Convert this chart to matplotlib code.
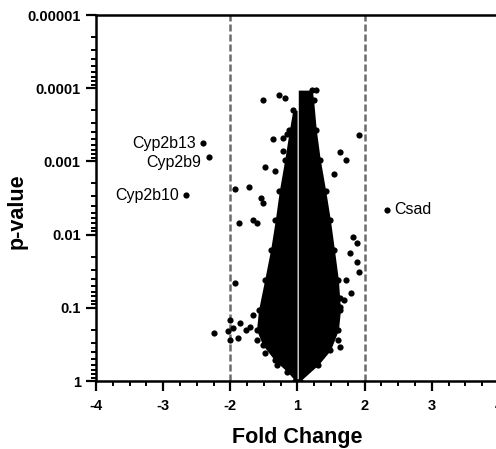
import numpy as np
import matplotlib
matplotlib.use("Agg")
import matplotlib.pyplot as plt
from matplotlib.ticker import MultipleLocator, LogLocator, NullFormatter

plt.rcParams['font.family'] = ['Liberation Sans', 'DejaVu Sans']

# named genes
gene_names = ["Cyp2b13", "Cyp2b9", "Cyp2b10", "Csad"]
gene_fc = [-2.40, -2.31, -2.66, 2.34]
gene_p = [5.6e-4, 8.7e-4, 2.9e-3, 4.6e-3]
gene_offsets = [(-5, 0), (-6, -4), (-5, 0), (5, 0)]

# other scattered genes outside the dense cloud
other_fc = [1.91, -1.52, -1.27, -1.19, 1.27, -1.15, -1.21, -1.36, -1.22, -1.48,
            -1.34, -1.93, -1.72, -1.55, -1.51, -1.87, -1.66, -1.60, -1.93, -2.25,
            -2.00, -2.04, -2.00, -1.88, -1.96, -1.85, -1.76, -1.70,
            1.79, 1.64, 1.70, 1.64, 1.49, 1.52, 1.60, 1.64, 1.64, 1.72, 1.54,
            1.82, 1.88, 1.78, 1.88, 1.91, 1.72,
            -1.66, -1.60, -1.48, -1.30]
other_p = [4.4e-4, 1.45e-4, 1.24e-4, 1.36e-4, 1.05e-4, 4.2e-4, 4.8e-4, 4.9e-4, 7.2e-4, 1.2e-3,
           1.35e-3, 2.4e-3, 2.2e-3, 3.2e-3, 3.7e-3, 6.9e-3, 6.3e-3, 6.9e-3, 0.046, 0.22,
           0.147, 0.21, 0.275, 0.26, 0.19, 0.16, 0.20, 0.18,
           0.063, 0.073, 0.078, 0.097, 0.134, 0.156, 0.275, 0.34, 7.4e-4, 9.6e-4, 1.5e-3,
           0.0108, 0.013, 0.0178, 0.0237, 0.0324, 0.0417,
           0.125, 0.275, 0.41, 0.60]

# outline of the dense cloud (down-regulated side)
left_env_p = [2.0e-4, 3.7e-4, 9.5e-4, 2.5e-3, 6.3e-3, 0.016, 0.042, 0.107, 0.20, 0.32, 0.52, 0.75, 1.0]
left_env_fc = [-1.07, -1.12, -1.19, -1.27, -1.33, -1.40, -1.49, -1.58, -1.61, -1.52, -1.34, -1.15, -1.03]

# outline of the dense cloud (up-regulated side)
right_env_p = [1.06e-4, 1.44e-4, 3.7e-4, 9.5e-4, 2.5e-3, 6.3e-3, 0.016, 0.042, 0.107, 0.20, 0.38, 0.60, 1.0]
right_env_fc = [1.22, 1.24, 1.28, 1.34, 1.42, 1.49, 1.55, 1.61, 1.64, 1.61, 1.49, 1.31, 1.04]

x_labels = ['-4', '-3', '-2', '1', '2', '3', '4']
y_ticks = [1, 0.1, 0.01, 0.001, 0.0001, 0.00001]
y_labels = ['1', '0.1', '0.01', '0.001', '0.0001', '0.00001']


def to_axis(fc):
    # fold change -> linear axis position (1 and -1 share the same spot)
    fc = np.asarray(fc, dtype=float)
    return np.where(fc >= 1, fc - 1, fc + 1)


fig = plt.figure(figsize=(4.96, 4.49), dpi=100)
ax = fig.add_axes([0.1935, 0.1514, 0.8125, 0.815])

# dense cloud
ax.fill_betweenx(left_env_p, to_axis(left_env_fc), -0.006, color='black', lw=0, zorder=3)
ax.fill_betweenx(right_env_p, 0.012, to_axis(right_env_fc), color='black', lw=0, zorder=3)
ax.scatter(to_axis(left_env_fc), left_env_p, s=20, color='black', lw=0, zorder=3)
ax.scatter(to_axis(right_env_fc), right_env_p, s=20, color='black', lw=0, zorder=3)

ax.scatter(to_axis(other_fc), other_p, s=20, color='black', lw=0, zorder=3)
ax.scatter(to_axis(gene_fc), gene_p, s=20, color='black', lw=0, zorder=3)

for name, fc, p, off in zip(gene_names, gene_fc, gene_p, gene_offsets):
    ax.annotate(name, (float(to_axis(fc)), p), xytext=off, textcoords='offset points',
                ha='right' if off[0] < 0 else 'left', va='center', fontsize=11.5)

# +/- 2 fold thresholds
for fc in [-2, 2]:
    ax.axvline(float(to_axis(fc)), color='#6b6b6b', lw=1.8, ls=(0, (2.8, 1.2)), zorder=1)

ax.set_yscale('log')
ax.set_ylim(1, 1e-5)
ax.set_xlim(-3, 3)

ax.set_xticks(np.arange(-3, 4), x_labels)
ax.xaxis.set_minor_locator(MultipleLocator(0.25))
ax.set_yticks(y_ticks, y_labels)
ax.yaxis.set_minor_locator(LogLocator(base=10, subs=np.arange(2, 10)))
ax.yaxis.set_minor_formatter(NullFormatter())

for lab in ax.get_xticklabels() + ax.get_yticklabels():
    lab.set_fontweight('bold')

ax.tick_params(which='major', direction='out', length=7, width=1.6, labelsize=10.5)
ax.tick_params(axis='x', which='major', pad=6)
ax.tick_params(axis='y', which='major', pad=4)
ax.tick_params(which='minor', direction='out', length=3.5, width=1.4)

for side in ['left', 'bottom', 'top']:
    ax.spines[side].set_linewidth(1.8)
ax.spines['right'].set_visible(False)

ax.set_xlabel('Fold Change', fontsize=15.5, fontweight='bold', labelpad=10)
ax.set_ylabel('p-value', fontsize=15.5, fontweight='bold')
ax.yaxis.set_label_coords(-0.17, 0.464)

fig.savefig('out.png', dpi=100)
